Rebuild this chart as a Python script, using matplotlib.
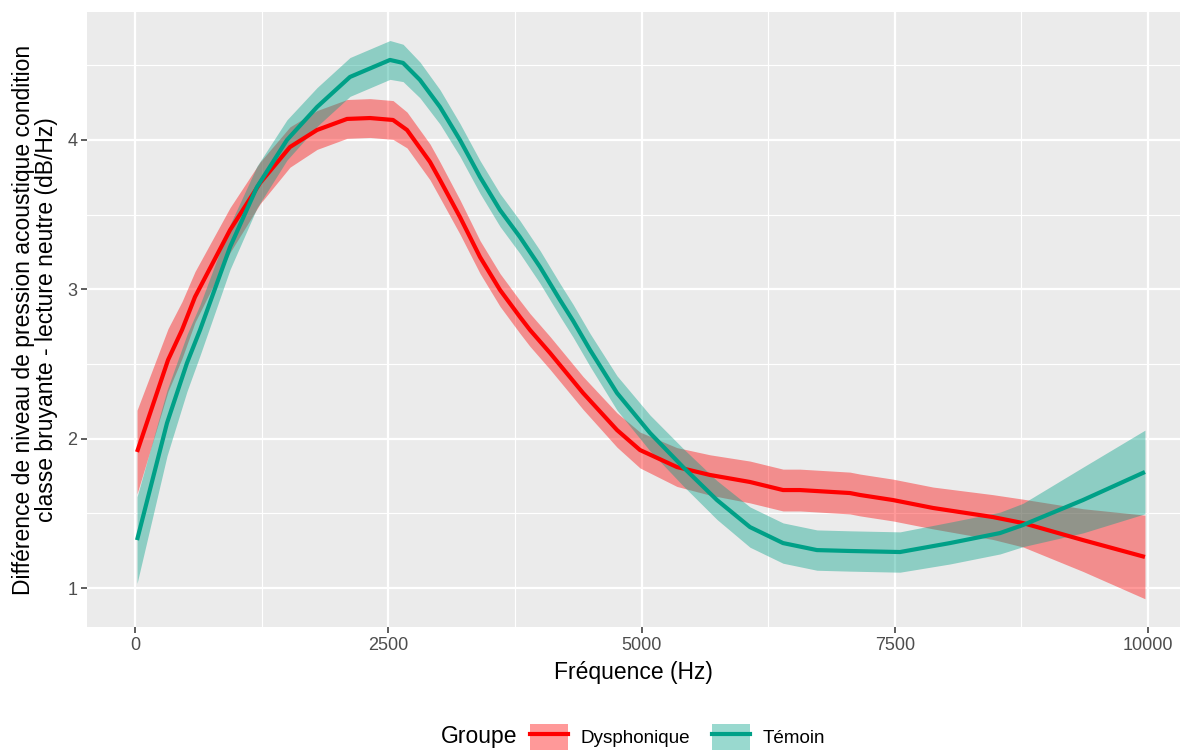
import matplotlib
matplotlib.use("Agg")
import numpy as np
import matplotlib.pyplot as plt
from matplotlib.patches import Patch
from matplotlib.lines import Line2D
from matplotlib.ticker import MultipleLocator

plt.rcParams['font.family'] = ['Liberation Sans', 'DejaVu Sans']

# courbe lissée, groupe Dysphonique
freq_dys = [20, 326, 464, 592, 938, 1234, 1530, 1797, 2093, 2320, 2547, 2685, 2912, 3011,
            3208, 3406, 3603, 3800, 3899, 4097, 4423, 4758, 4985, 5350, 5676, 6071, 6397,
            6565, 7058, 7157, 7483, 7878, 8470, 8766, 9358, 9970]
fit_dys = [1.911, 2.527, 2.728, 2.949, 3.397, 3.712, 3.953, 4.067, 4.141, 4.147, 4.134, 4.067,
           3.853, 3.732, 3.484, 3.216, 2.996, 2.815, 2.728, 2.574, 2.306, 2.058, 1.924, 1.810,
           1.757, 1.710, 1.656, 1.656, 1.636, 1.623, 1.589, 1.536, 1.475, 1.435, 1.321, 1.208]
half_dys = [0.28, 0.21, 0.19, 0.17, 0.15, 0.14, 0.135, 0.13, 0.13, 0.13, 0.13, 0.12, 0.12, 0.12,
            0.115, 0.11, 0.11, 0.11, 0.11, 0.11, 0.11, 0.115, 0.12, 0.13, 0.135, 0.14, 0.14,
            0.14, 0.14, 0.14, 0.14, 0.14, 0.15, 0.16, 0.21, 0.28]

# courbe lissée, groupe Témoin
freq_tem = [20, 316, 513, 642, 938, 1204, 1500, 1797, 2122, 2517, 2646, 2813, 3011, 3208,
            3406, 3603, 3800, 3998, 4195, 4324, 4492, 4758, 5084, 5410, 5745, 6071, 6397,
            6732, 7058, 7552, 8045, 8539, 8766, 9358, 9970]
fit_tem = [1.321, 2.105, 2.507, 2.728, 3.283, 3.685, 4.000, 4.221, 4.422, 4.536, 4.516, 4.402,
           4.221, 4.000, 3.752, 3.531, 3.350, 3.150, 2.929, 2.790, 2.594, 2.306, 2.038, 1.810,
           1.589, 1.408, 1.301, 1.254, 1.248, 1.241, 1.301, 1.368, 1.422, 1.589, 1.777]
half_tem = [0.29, 0.22, 0.19, 0.17, 0.15, 0.14, 0.135, 0.13, 0.13, 0.13, 0.125, 0.12, 0.115,
            0.11, 0.11, 0.11, 0.11, 0.11, 0.11, 0.11, 0.11, 0.115, 0.12, 0.125, 0.13, 0.135,
            0.135, 0.135, 0.135, 0.135, 0.14, 0.14, 0.145, 0.22, 0.28]

groupes = ["Dysphonique", "Témoin"]
couleurs = ["#FF0000", "#00A087"]

fig = plt.figure(figsize=(11.92, 7.51), dpi=100)
ax = fig.add_axes([87/1192, 1-627/751, (1180-87)/1192, (627-12)/751])
ax.set_facecolor("#EBEBEB")

series = [(freq_dys, fit_dys, half_dys), (freq_tem, fit_tem, half_tem)]
for (f, y, h), c in zip(series, couleurs):
    f = np.array(f); y = np.array(y); h = np.array(h)
    ax.fill_between(f, y - h, y + h, color=c, alpha=0.4, lw=0, zorder=2)
    ax.plot(f, y, color=c, lw=3, solid_capstyle='butt', solid_joinstyle='round', zorder=3)

ax.set_xlim(-474, 10316)
ax.set_ylim(0.739, 4.857)
ax.xaxis.set_major_locator(MultipleLocator(2500))
ax.xaxis.set_minor_locator(MultipleLocator(1250))
ax.yaxis.set_major_locator(MultipleLocator(1))
ax.yaxis.set_minor_locator(MultipleLocator(0.5))
ax.grid(which='major', color='white', lw=1.6, zorder=1)
ax.grid(which='minor', color='white', lw=0.8, zorder=1)
ax.set_axisbelow(True)
for s in ax.spines.values():
    s.set_visible(False)
ax.tick_params(which='major', length=4, width=1.1, color='#333333', labelcolor='#4D4D4D',
               labelsize=13, pad=3)
ax.tick_params(which='minor', length=0)

ax.set_xlabel("Fréquence (Hz)", fontsize=16.5, labelpad=5)
ax.set_ylabel("Différence de niveau de pression acoustique condition\n"
              "classe bruyante - lecture neutre (dB/Hz)", fontsize=16.5, labelpad=7,
              linespacing=0.95)

# légende en bas
fig.text(441/1192, 1-737/751, "Groupe", fontsize=16.5, va='center', ha='left')
handles = [(Patch(facecolor=c, alpha=0.4, lw=0), Line2D([], [], color=c, lw=3))
           for c in couleurs]
fig.legend(handles, groupes, loc='center left', bbox_to_anchor=(530/1192, 1-737/751),
           ncol=2, frameon=False, fontsize=13.6, handlelength=2.0, handleheight=1.75,
           handletextpad=0.65, columnspacing=1.2, borderpad=0, borderaxespad=0)

fig.savefig("out.png", dpi=100)
